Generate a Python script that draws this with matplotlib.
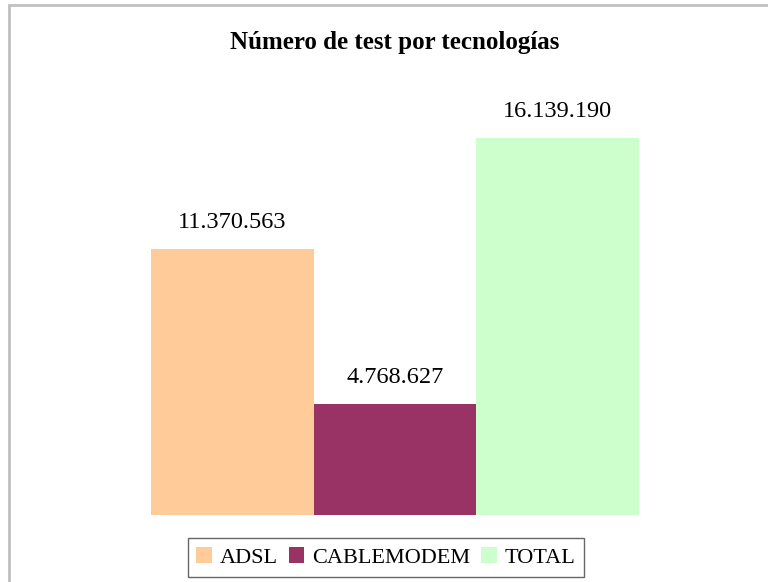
import matplotlib.pyplot as plt
from matplotlib.patches import Rectangle

categorias = ['ADSL', 'CABLEMODEM', 'TOTAL']
valores = [11370563, 4768627, 16139190]
etiquetas = ['11.370.563', '4.768.627', '16.139.190']
colores = ['#FFCC99', '#993366', '#CCFFCC']

plt.rcParams['font.family'] = ['Liberation Serif', 'DejaVu Serif']

fig = plt.figure(figsize=(7.68, 5.82), dpi=100)
W, H = 768, 582

# marco gris del grafico
fig.patches.append(Rectangle((8.5/W, -0.1), 1, 1.1 - 5/H, transform=fig.transFigure,
                             fill=False, edgecolor='#C0C0C0', linewidth=2))

ymax = 18000000
ax = fig.add_axes([151/W, (H-515)/H, 488/W, 377*ymax/valores[2]/H])
bars = ax.bar(range(3), valores, width=1.0, color=colores, label=categorias)
ax.set_xlim(-0.5, 2.5)
ax.set_ylim(0, ymax)
ax.axis('off')

for i, v in enumerate(valores):
    ax.text(i, v + ymax*0.038, etiquetas[i], ha='center', va='bottom', fontsize=17.5)

fig.text(395/W, 1 - 42/H, 'Número de test por tecnologías', ha='center', va='center',
         fontsize=18, fontweight='bold')

leg = fig.legend(bars, categorias, loc='center', bbox_to_anchor=(386/W, 1 - 557.5/H),
                 ncol=3, fontsize=16, frameon=True, fancybox=False,
                 handlelength=0.7, handleheight=0.7, handletextpad=0.35,
                 columnspacing=0.5, borderpad=0.4, borderaxespad=0)
leg.get_frame().set_edgecolor('#404040')
leg.get_frame().set_linewidth(1)

fig.savefig('out.png', dpi=100)
